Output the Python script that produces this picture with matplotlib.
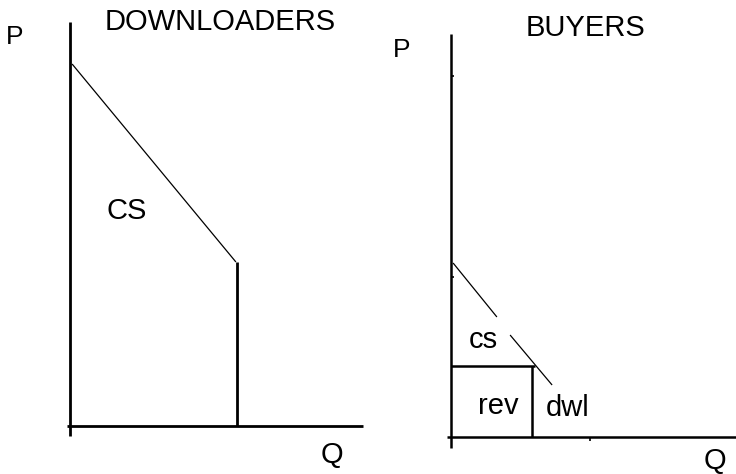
import matplotlib.pyplot as plt

# ---- data (units: Q across, P up) ----
# downloaders panel
dl_demand_q = [0.07, 5.53]
dl_demand_p = [9.05, 4.10]
dl_cap_q = 5.57
dl_cap_p = 4.10

# buyers panel: demand drawn in two pieces (gap for the "cs" label)
by_demand1_q = [0.07, 1.53]
by_demand1_p = [4.35, 3.00]
by_demand2_q = [1.97, 3.37]
by_demand2_p = [2.55, 1.30]
by_price = 1.775
by_price_q_end = 2.80
by_quantity = 2.70
by_yticks = [9.025, 4.0]
by_xticks = [4.63]

plt.rcParams['font.family'] = ['Liberation Sans', 'DejaVu Sans']

fig = plt.figure(figsize=(7.36, 4.74), dpi=100)
fig.patch.set_facecolor('white')

# 30 px per Q unit, 40 px per P unit
ax1 = fig.add_axes([0, 0, 368/736, 1])
ax1.set_xlim(-70/30, (368-70)/30)
ax1.set_ylim(-(474-426)/40, 426/40)
ax1.axis('off')

ax2 = fig.add_axes([368/736, 0, 368/736, 1])
ax2.set_xlim(-(451-368)/30, (736-451)/30)
ax2.set_ylim(-(474-437)/40, 437/40)
ax2.axis('off')

k = dict(color='black', solid_capstyle='butt')

# left: axes
ax1.plot([0, 0], [-0.25, 10.1], lw=2.0, **k)
ax1.plot([-0.1, 9.77], [0, 0], lw=2.0, **k)
ax1.plot(dl_demand_q, dl_demand_p, lw=0.9, **k)
ax1.plot([dl_cap_q, dl_cap_q], [0, dl_cap_p], lw=2.0, **k)

fs = 21
ax1.text(-1.83, 9.72, 'P', fontsize=19, ha='center', va='center')
ax1.text(5.0, 10.1, 'DOWNLOADERS', fontsize=fs, ha='center', va='center')
ax1.text(1.9, 5.375, 'CS', fontsize=fs, ha='center', va='center')
ax1.text(8.73, -0.725, 'Q', fontsize=fs, ha='center', va='center')

# right: axes
ax2.plot([0, 0], [-0.275, 10.075], lw=1.8, **k)
ax2.plot([-0.133, 9.5], [0, 0], lw=1.8, **k)
for yt in by_yticks:
    ax2.plot([0, 0.1], [yt, yt], lw=1.2, **k)
for xt in by_xticks:
    ax2.plot([xt, xt], [0, -0.1], lw=1.2, **k)

ax2.plot(by_demand1_q, by_demand1_p, lw=0.9, **k)
ax2.plot(by_demand2_q, by_demand2_p, lw=0.9, **k)
ax2.plot([0, by_price_q_end], [by_price, by_price], lw=1.8, **k)
ax2.plot([by_quantity, by_quantity], [0, by_price], lw=1.8, **k)

ax2.text(-1.64, 9.675, 'P', fontsize=19, ha='center', va='center')
ax2.text(4.47, 10.22, 'BUYERS', fontsize=fs, ha='center', va='center')
ax2.text(1.07, 2.425, 'cs', fontsize=fs, ha='center', va='center')
ax2.text(1.59, 0.775, 'rev', fontsize=fs, ha='center', va='center')
ax2.text(3.88, 0.72, 'dwl', fontsize=fs, ha='center', va='center')
ax2.text(8.8, -0.6, 'Q', fontsize=fs, ha='center', va='center')

fig.savefig('out.png', dpi=100, facecolor='white')
